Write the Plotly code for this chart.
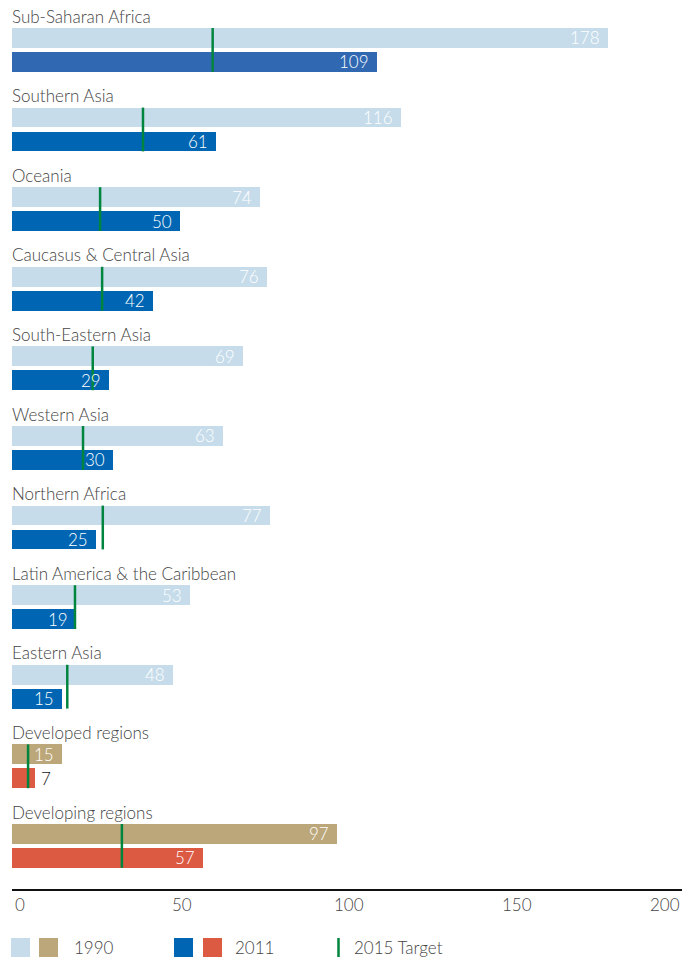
import plotly.graph_objects as go

regions = ["Sub-Saharan Africa", "Southern Asia", "Oceania", "Caucasus & Central Asia",
           "South-Eastern Asia", "Western Asia", "Northern Africa",
           "Latin America & the Caribbean", "Eastern Asia", "Developed regions",
           "Developing regions"]
v1990 = [178, 116, 74, 76, 69, 63, 77, 53, 48, 15, 97]
v2011 = [109, 61, 50, 42, 29, 30, 25, 19, 15, 7, 57]
target2015 = [59.9, 39.1, 26.3, 26.9, 24.1, 21.2, 27.1, 18.8, 16.5, 4.8, 32.8]
x_ticks = [0, 50, 100, 150, 200]
legend_labels = ["1990", "2011", "2015 Target"]

# styling
FONT = "Lato"
LIGHT_BLUE = "#c6dcea"
TAN = "#bba77a"
BLUE = "#0066b3"
BLUE_SSA = "#3068b2"
RED = "#dc5a42"
GREEN = "#00853e"
TEXT = "#444444"

W, H = 688, 957
ML, MR, MT, MB = 12, 6, 0, 68
PITCH = 79.6
plot_h = H - MT - MB
n = len(regions)

title_off = 16.0 / PITCH
bar1_off = 37.9 / PITCH
bar2_off = 61.9 / PITCH
bar_w = 19.7 / PITCH
tgt_top = 28.0 / PITCH
tgt_bot = 71.8 / PITCH

is_agg = [r.startswith("Develop") for r in regions]
c1990 = [TAN if a else LIGHT_BLUE for a in is_agg]
c2011 = [RED if a else BLUE for a in is_agg]
c2011[0] = BLUE_SSA

y1 = [i + bar1_off for i in range(n)]
y2 = [i + bar2_off for i in range(n)]

fig = go.Figure()
fig.add_trace(go.Bar(x=v1990, y=y1, orientation="h", width=bar_w,
                     marker=dict(color=c1990, line=dict(width=0)),
                     hoverinfo="skip", showlegend=False))
fig.add_trace(go.Bar(x=v2011, y=y2, orientation="h", width=bar_w,
                     marker=dict(color=c2011, line=dict(width=0)),
                     hoverinfo="skip", showlegend=False))

tx, ty = [], []
for i, t in enumerate(target2015):
    tx += [t, t, None]
    ty += [i + tgt_top, i + tgt_bot, None]
fig.add_trace(go.Scatter(x=tx, y=ty, mode="lines",
                         line=dict(color=GREEN, width=2.5),
                         hoverinfo="skip", showlegend=False))

ann = []
for i, r in enumerate(regions):
    ann.append(dict(x=0, y=i + title_off, xref="x", yref="y", text=r,
                    xanchor="left", yanchor="middle", showarrow=False,
                    xshift=-2, font=dict(family=FONT, size=17, color=TEXT, weight=300)))
    ann.append(dict(x=v1990[i], y=y1[i], xref="x", yref="y", text=str(v1990[i]),
                    xanchor="right", yanchor="middle", showarrow=False,
                    xshift=-6, font=dict(family=FONT, size=17, color="white", weight=300)))
    inside = v2011[i] >= 12
    ann.append(dict(x=v2011[i], y=y2[i], xref="x", yref="y", text=str(v2011[i]),
                    xanchor="right" if inside else "left", yanchor="middle",
                    showarrow=False, xshift=-6 if inside else 4,
                    font=dict(family=FONT, size=17, weight=300,
                              color="white" if inside else "#111111")))

def py(p):
    return (H - MB - p) / plot_h

def px(p):
    return (p - ML) / (W - ML - MR)

for k, t in enumerate(x_ticks):
    if k == 0:
        xa, xs = "left", 1
    elif k == len(x_ticks) - 1:
        xa, xs = "right", 0
    else:
        xa, xs = "center", 2
    ann.append(dict(x=t, y=py(904), xref="x", yref="paper", text=str(t),
                    xanchor=xa, yanchor="middle", showarrow=False, xshift=xs,
                    font=dict(family=FONT, size=17, color=TEXT, weight=300)))

shapes = []
leg_top, leg_bot = py(938), py(960)
for (x0, x1, c) in [(11, 30, LIGHT_BLUE), (39, 58, TAN), (174, 193, BLUE), (203, 222, RED)]:
    shapes.append(dict(type="rect", xref="paper", yref="paper",
                       x0=px(x0), x1=px(x1), y0=leg_bot, y1=leg_top,
                       fillcolor=c, line=dict(width=0)))
shapes.append(dict(type="line", xref="paper", yref="paper",
                   x0=px(338.5), x1=px(338.5), y0=leg_bot, y1=leg_top,
                   line=dict(color=GREEN, width=2.5)))
for xpos, lab in zip([72, 233, 352], legend_labels):
    ann.append(dict(x=px(xpos), y=py(947), xref="paper", yref="paper", text=lab,
                    xanchor="left", yanchor="middle", showarrow=False,
                    font=dict(family=FONT, size=17, color=TEXT, weight=300)))

fig.update_layout(
    width=W, height=H,
    margin=dict(l=ML, r=MR, t=MT, b=MB, pad=0),
    paper_bgcolor="white", plot_bgcolor="white",
    barmode="overlay", bargap=0,
    xaxis=dict(range=[0, 200], showgrid=False, zeroline=False,
               showticklabels=False, ticks="", showline=True,
               linecolor="#111111", linewidth=1.5, fixedrange=True),
    yaxis=dict(range=[plot_h / PITCH, 0], showgrid=False, zeroline=False,
               showticklabels=False, ticks="", showline=False, fixedrange=True),
    annotations=ann, shapes=shapes,
    font=dict(family=FONT),
)

fig.write_html("out.html", config={"displayModeBar": False},
               post_script="document.body.style.margin='0';document.body.style.overflow='hidden';")
